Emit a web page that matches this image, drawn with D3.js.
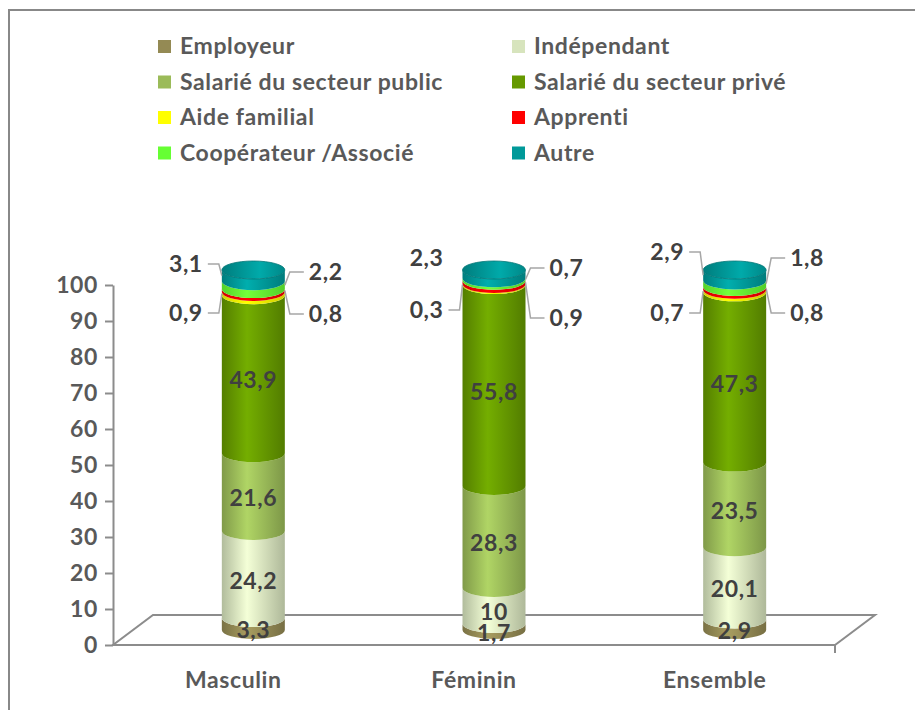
<!DOCTYPE html>
<html>
<head>
<meta charset="utf-8">
<script src="https://cdn.jsdelivr.net/npm/d3@7"></script>
<style>
  body { margin: 0; background: #fff; }
  svg text { font-family: Lato, "Open Sans", sans-serif; font-weight: bold; letter-spacing: 0.6px; }
</style>
</head>
<body>
<svg id="chart" width="915" height="710"></svg>
<script>
// Categories and stacked series (percent)
var categories = ["Masculin", "Féminin", "Ensemble"];
var seriesNames = ["Employeur", "Indépendant", "Salarié du secteur public", "Salarié du secteur privé",
                   "Aide familial", "Apprenti", "Coopérateur /Associé", "Autre"];
var seriesColors = ["#948A54", "#D7E4BD", "#9BBB59", "#669900", "#FFFF00", "#FF0000", "#66FF33", "#009999"];
var employeur   = [3.3, 1.7, 2.9];
var independant = [24.2, 10, 20.1];
var public_     = [21.6, 28.3, 23.5];
var prive       = [43.9, 55.8, 47.3];
var aideFam     = [0.9, 0.3, 0.7];
var apprenti    = [0.8, 0.9, 0.8];
var cooperateur = [2.2, 0.7, 1.8];
var autre       = [3.1, 2.3, 2.9];
var yTicks = [0, 10, 20, 30, 40, 50, 60, 70, 80, 90, 100];

var values = [employeur, independant, public_, prive, aideFam, apprenti, cooperateur, autre];

// Small series are labelled outside the cylinder with a leader line
// side: -1 left, 1 right ; dy: label offset from the 100 level ; leader: draw line or not
var outsideLabels = [
    {s: 7, side: -1, dy: [-6, -12, -18], leader: [true, false, true]},
    {s: 4, side: -1, dy: [43, 40, 43], leader: [true, true, true]},
    {s: 6, side: 1, dy: [2, -2, -12], leader: [true, true, true]},
    {s: 5, side: 1, dy: [44, 48, 43], leader: [true, true, true]}
];

var fs = "23px";
var svg = d3.select("#chart");
var defs = svg.append("defs");

// Frame
svg.append("rect")
    .attr("x", 9).attr("y", 10).attr("width", 920).attr("height", 720)
    .style("fill", "none").style("stroke", "#888").style("stroke-width", 2);

// Scales
var y = d3.scaleLinear().domain([0, 100]).range([645, 285]);
var x = d3.scaleBand().domain(categories).range([113, 835]);
var depthX = 40, depthY = -30;
var rx = 31.5, ry = 9;
var cx = function (c) { return x(c) + x.bandwidth() / 2 + depthX / 2; };
var yv = function (v) { return y(v) + depthY / 2; };

// Floor
var floor = [[113, 645], [835, 645], [835 + depthX, 645 + depthY], [113 + depthX, 645 + depthY]];
svg.append("path")
    .attr("d", d3.line()(floor) + "Z")
    .style("fill", "none").style("stroke", "#8c8c8c").style("stroke-width", 2);
svg.append("line")
    .attr("x1", 835).attr("x2", 835).attr("y1", 645).attr("y2", 653)
    .style("stroke", "#8c8c8c").style("stroke-width", 2);

// Value axis
var yAxis = svg.append("g")
    .attr("transform", "translate(113,0)")
    .call(d3.axisLeft(y).tickValues(yTicks).tickSize(8).tickSizeOuter(0).tickPadding(7));
yAxis.select(".domain").style("stroke", "#8c8c8c").style("stroke-width", 2);
yAxis.selectAll(".tick line").style("stroke", "#8c8c8c").style("stroke-width", 2);
yAxis.selectAll(".tick text")
    .style("font-size", fs).style("fill", "#595959")
    .attr("font-family", null);

// Category labels
svg.selectAll(".catLabel").data(categories).enter()
    .append("text")
    .attr("class", "catLabel")
    .attr("x", function (d) { return x(d) + x.bandwidth() / 2; })
    .attr("y", 688)
    .attr("text-anchor", "middle")
    .style("font-size", fs).style("fill", "#595959")
    .text(function (d) { return d; });

// Gradients for the shaded cylinders
function shade(col, k) {
    var c = d3.rgb(col);
    return k < 1 ? c.darker((1 - k) * 3) : c.brighter((k - 1) * 3);
}
seriesColors.forEach(function (col, i) {
    var g = defs.append("linearGradient").attr("id", "grad" + i)
        .attr("x1", "0%").attr("x2", "100%").attr("y1", "0%").attr("y2", "0%");
    g.append("stop").attr("offset", "0%").attr("stop-color", shade(col, 0.82));
    g.append("stop").attr("offset", "40%").attr("stop-color", shade(col, 1.12));
    g.append("stop").attr("offset", "100%").attr("stop-color", shade(col, 0.8));
});
var topGrad = defs.append("linearGradient").attr("id", "gradTop")
    .attr("x1", "0%").attr("x2", "100%").attr("y1", "0%").attr("y2", "0%");
topGrad.append("stop").attr("offset", "0%").attr("stop-color", "#007d7d");
topGrad.append("stop").attr("offset", "60%").attr("stop-color", "#00aaaa");
topGrad.append("stop").attr("offset", "100%").attr("stop-color", "#008888");

// Stack the series
var stackData = categories.map(function (c, ci) {
    var acc = 0;
    return values.map(function (arr, si) {
        var seg = {cat: c, ci: ci, s: si, v: arr[ci], y0: acc, y1: acc + arr[ci]};
        acc += arr[ci];
        return seg;
    });
});

function segPath(d) {
    var xc = cx(d.cat), t = yv(d.y1), b = yv(d.y0);
    return "M" + (xc - rx) + "," + t +
        "L" + (xc - rx) + "," + b +
        "A" + rx + "," + ry + " 0 0 0 " + (xc + rx) + "," + b +
        "L" + (xc + rx) + "," + t +
        "A" + rx + "," + ry + " 0 0 1 " + (xc - rx) + "," + t + "Z";
}

var cyl = svg.selectAll(".cylinder").data(stackData).enter()
    .append("g").attr("class", "cylinder");

cyl.selectAll("path").data(function (d) { return d; }).enter()
    .append("path")
    .attr("d", segPath)
    .style("fill", function (d) { return "url(#grad" + d.s + ")"; });

// Top cap
cyl.append("ellipse")
    .attr("cx", function (d) { return cx(d[0].cat); })
    .attr("cy", function (d) { return yv(d[d.length - 1].y1); })
    .attr("rx", rx).attr("ry", ry)
    .style("fill", "url(#gradTop)")
    .style("stroke", "#007575").style("stroke-width", 0.8);

// Labels inside the four big segments
var fmt = function (v) { return String(v).replace(".", ","); };
var inside = [];
stackData.forEach(function (segs) { segs.slice(0, 4).forEach(function (d) { inside.push(d); }); });
svg.selectAll(".inLabel").data(inside).enter()
    .append("text")
    .attr("class", "inLabel")
    .attr("x", function (d) { return cx(d.cat); })
    .attr("y", function (d) { return yv((d.y0 + d.y1) / 2) + 6; })
    .attr("dy", "0.35em")
    .attr("text-anchor", "middle")
    .style("font-size", fs).style("fill", "#404040")
    .text(function (d) { return fmt(d.v); });

// Outside labels with leader lines
outsideLabels.forEach(function (o) {
    stackData.forEach(function (segs, ci) {
        var d = segs[o.s];
        var xc = cx(d.cat);
        var edge = xc + o.side * rx;
        var ty = yv(100) + o.dy[ci];
        var elbow = edge + o.side * (o.side > 0 ? 5 : 3);
        var end = edge + o.side * (o.side > 0 ? 19 : 14);
        if (o.leader[ci]) {
            svg.append("path")
                .attr("d", "M" + edge + "," + yv((d.y0 + d.y1) / 2) + "L" + elbow + "," + ty + "L" + end + "," + ty)
                .style("fill", "none").style("stroke", "#a6a6a6").style("stroke-width", 1.5);
        }
        svg.append("text")
            .attr("x", end + o.side * 5)
            .attr("y", ty)
            .attr("dy", "0.35em")
            .attr("text-anchor", o.side > 0 ? "start" : "end")
            .style("font-size", fs).style("fill", "#404040")
            .text(fmt(d.v));
    });
});

// Legend, two columns
var legend = svg.selectAll(".legendItem").data(seriesNames).enter()
    .append("g").attr("class", "legendItem")
    .attr("transform", function (d, i) {
        return "translate(" + (i % 2 === 0 ? 158 : 512) + "," + (46 + Math.floor(i / 2) * 35.5) + ")";
    });
legend.append("rect")
    .attr("x", 0).attr("y", -6).attr("width", 13).attr("height", 13)
    .style("fill", function (d, i) { return seriesColors[i]; });
legend.append("text")
    .attr("x", 22).attr("y", 0).attr("dy", "0.35em")
    .style("font-size", fs).style("fill", "#595959")
    .text(function (d) { return d; });
</script>
</body>
</html>
